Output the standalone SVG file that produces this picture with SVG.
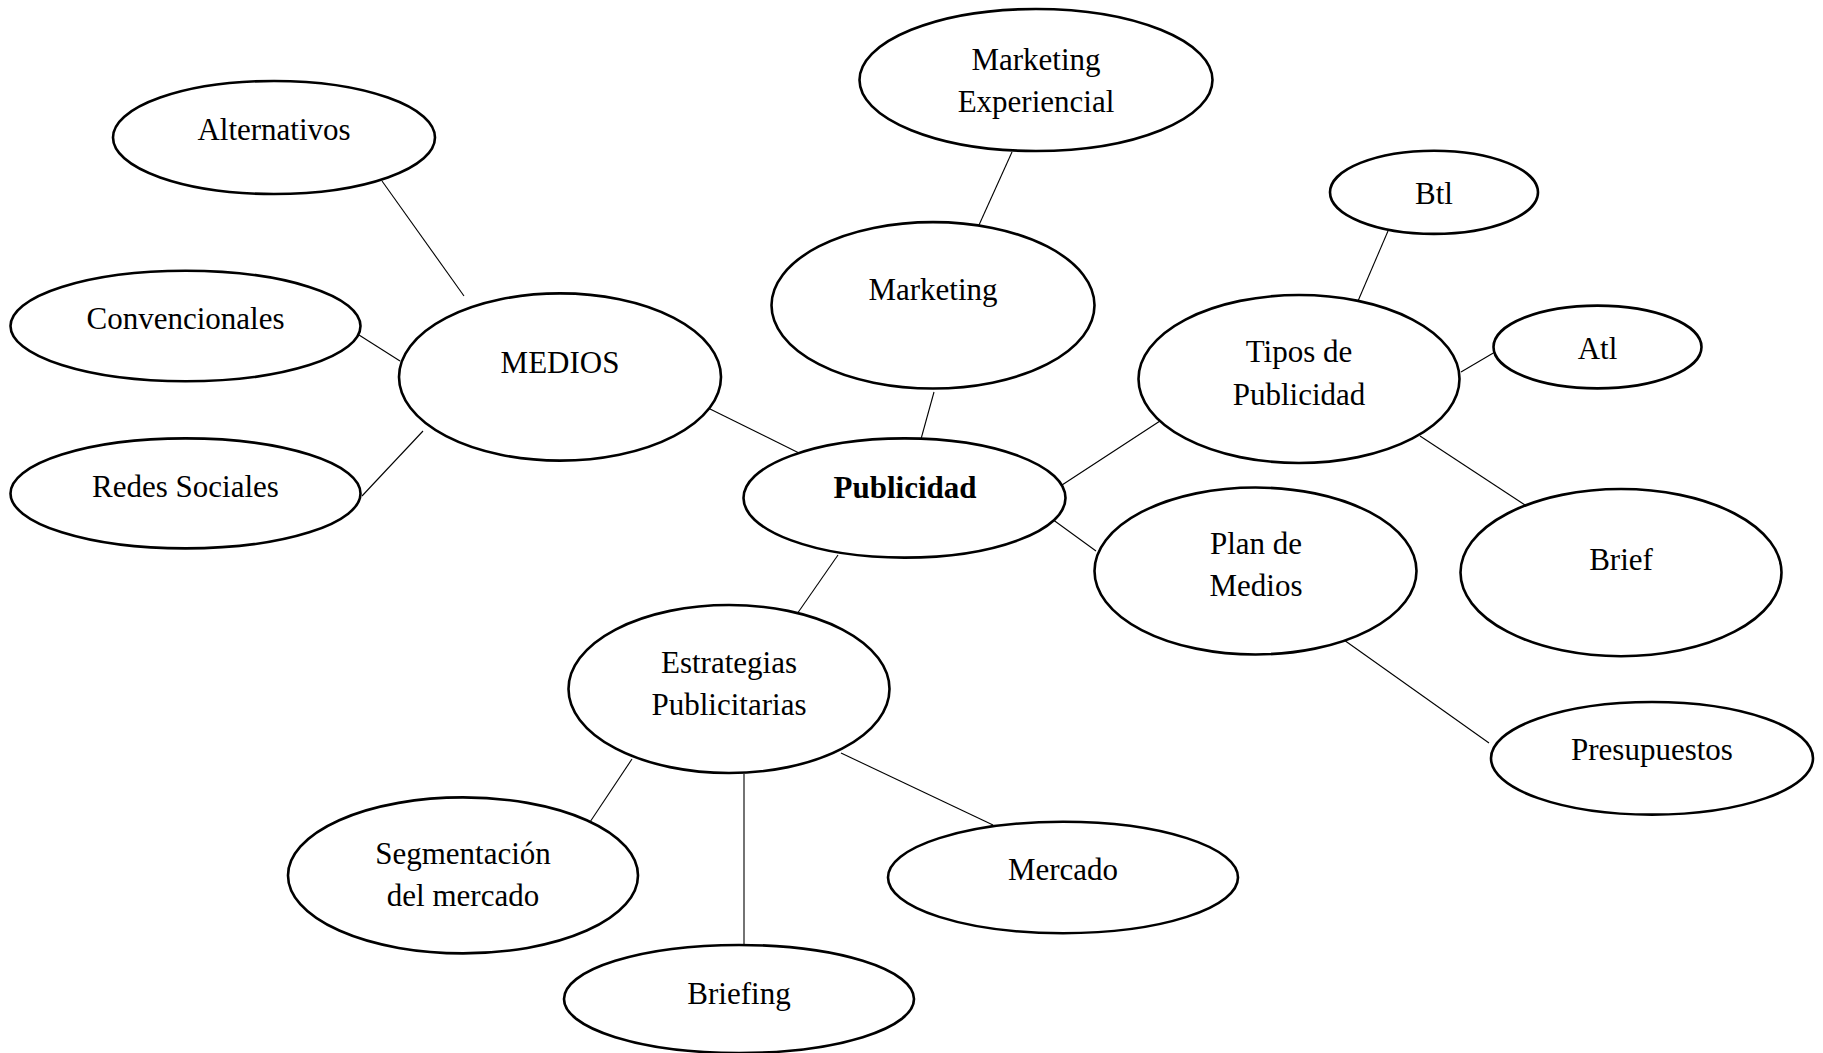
<svg xmlns="http://www.w3.org/2000/svg" width="1823" height="1053" viewBox="0 0 1823 1053">
<style>
.n ellipse{fill:#fff;stroke:#000;stroke-width:2.6}
.n text{font-family:"Liberation Serif","Times New Roman",serif;font-size:31px;fill:#000;text-anchor:middle}
.b{font-weight:bold}
#connectors line{stroke:#000;stroke-width:1.1}
</style>
<rect width="1823" height="1053" fill="#fff"/>
<g id="connectors">
<line x1="382" y1="181" x2="464" y2="296"/>
<line x1="359" y1="335" x2="400" y2="361"/>
<line x1="362" y1="496" x2="423" y2="431"/>
<line x1="708" y1="408" x2="799" y2="453"/>
<line x1="1012" y1="152" x2="979" y2="225"/>
<line x1="934" y1="392" x2="921" y2="439"/>
<line x1="1388" y1="231" x2="1358" y2="301"/>
<line x1="1461" y1="372" x2="1495" y2="352"/>
<line x1="1420" y1="436" x2="1525" y2="505"/>
<line x1="1062" y1="485" x2="1160" y2="421"/>
<line x1="1052" y1="519" x2="1096" y2="551"/>
<line x1="1344" y1="640" x2="1489" y2="743"/>
<line x1="838" y1="555" x2="797" y2="614"/>
<line x1="632" y1="759" x2="590" y2="822"/>
<line x1="744" y1="774" x2="744" y2="944"/>
<line x1="841" y1="753" x2="993" y2="825"/>
</g>
<g id="alternativos" class="n"><ellipse cx="274" cy="137.5" rx="161" ry="56.5"/><text x="274" y="139.5">Alternativos</text></g>
<g id="convencionales" class="n"><ellipse cx="185.5" cy="326" rx="175" ry="55.3"/><text x="185.5" y="329">Convencionales</text></g>
<g id="redes-sociales" class="n"><ellipse cx="185.5" cy="493.4" rx="175" ry="55"/><text x="185.5" y="496.5">Redes Sociales</text></g>
<g id="medios" class="n"><ellipse cx="560" cy="377" rx="161" ry="83.6"/><text x="560" y="373">MEDIOS</text></g>
<g id="marketing-experiencial" class="n"><ellipse cx="1036" cy="80" rx="176.5" ry="71"/><text x="1036" y="70">Marketing</text><text x="1036" y="111.5">Experiencial</text></g>
<g id="marketing" class="n"><ellipse cx="933" cy="305.3" rx="161.5" ry="83.2"/><text x="933" y="300">Marketing</text></g>
<g id="publicidad" class="n"><ellipse cx="904.5" cy="498" rx="161" ry="59.6"/><text class="b" x="905" y="497.5">Publicidad</text></g>
<g id="btl" class="n"><ellipse cx="1434" cy="192.3" rx="104" ry="41.6"/><text x="1434" y="203.5">Btl</text></g>
<g id="tipos-de-publicidad" class="n"><ellipse cx="1299" cy="379" rx="160.5" ry="84"/><text x="1299" y="361.5">Tipos de</text><text x="1299" y="404.5">Publicidad</text></g>
<g id="atl" class="n"><ellipse cx="1597.5" cy="347" rx="104" ry="41.4"/><text x="1597.5" y="359">Atl</text></g>
<g id="plan-de-medios" class="n"><ellipse cx="1255.5" cy="571" rx="161" ry="83.5"/><text x="1256" y="553.5">Plan de</text><text x="1256" y="596">Medios</text></g>
<g id="brief" class="n"><ellipse cx="1621" cy="572.6" rx="160.5" ry="83.6"/><text x="1621" y="569.5">Brief</text></g>
<g id="presupuestos" class="n"><ellipse cx="1652" cy="758.3" rx="161" ry="56.3"/><text x="1652" y="760">Presupuestos</text></g>
<g id="estrategias-publicitarias" class="n"><ellipse cx="729" cy="689" rx="160.5" ry="84"/><text x="729" y="673">Estrategias</text><text x="729" y="715">Publicitarias</text></g>
<g id="segmentacion" class="n"><ellipse cx="463" cy="875.4" rx="175" ry="78"/><text x="463" y="863.5">Segmentación</text><text x="463" y="905.5">del mercado</text></g>
<g id="mercado" class="n"><ellipse cx="1063" cy="877.5" rx="175" ry="55.7"/><text x="1063" y="880">Mercado</text></g>
<g id="briefing" class="n"><ellipse cx="739" cy="999" rx="175" ry="54"/><text x="739" y="1003.5">Briefing</text></g>
</svg>
